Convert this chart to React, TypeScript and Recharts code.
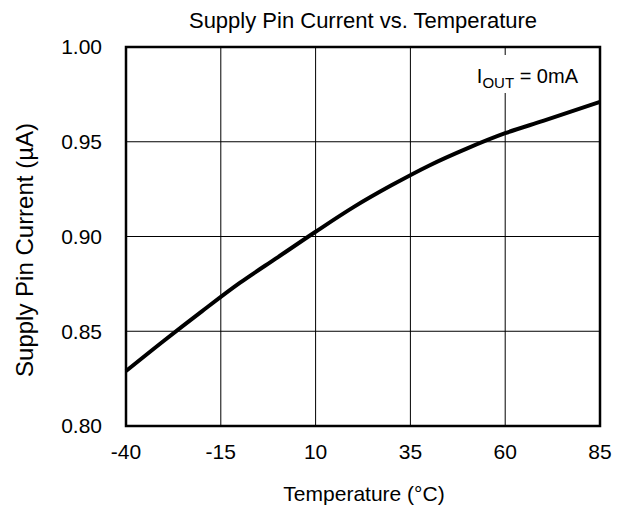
import React from 'react';
import { LineChart, Line, XAxis, YAxis, CartesianGrid, ReferenceArea, Customized } from 'recharts';

const temperatures = [-40, -30, -20, -10, 0, 10, 20, 30, 40, 50, 60, 70, 85];
const supplyCurrent = [0.829, 0.845, 0.8605, 0.8755, 0.889, 0.9025, 0.9155, 0.927, 0.9375, 0.9465, 0.9545, 0.961, 0.971];
const xTicks = [-40, -15, 10, 35, 60, 85];
const yTicks = [0.8, 0.85, 0.9, 0.95, 1.0];

const data = temperatures.map((t, i) => ({ t, v: supplyCurrent[i] }));
const FONT = "Arial, 'Liberation Sans', sans-serif";

const Texts = () => (
  <g fontFamily={FONT} fill="#000">
    <text x={363} y={28} textAnchor="middle" fontSize={22}>Supply Pin Current vs. Temperature</text>
    <text x={364} y={501} textAnchor="middle" fontSize={21}>Temperature (°C)</text>
    <text x={33} y={250} textAnchor="middle" fontSize={24} transform="rotate(-90 33 250)">Supply Pin Current (µA)</text>
    <rect x={468} y={55} width={114} height={38} fill="#fff" />
    <text x={578} y={83} textAnchor="end" fontSize={20}>
      <tspan>I</tspan>
      <tspan fontSize={15} dy={5}>OUT</tspan>
      <tspan dy={-5}> = 0mA</tspan>
    </text>
  </g>
);

export default function App() {
  return (
    <div style={{ position: 'absolute', left: 0, top: 0, background: '#fff' }}>
      <LineChart width={622} height={510} data={data} margin={{ top: 47, right: 22, bottom: 0, left: 0 }}>
        <CartesianGrid stroke="#000" strokeWidth={1} horizontalValues={yTicks} verticalValues={xTicks} />
        <XAxis
          dataKey="t"
          type="number"
          domain={[-40, 85]}
          ticks={xTicks}
          height={84}
          axisLine={false}
          tickLine={false}
          tickSize={0}
          tickMargin={18}
          tick={{ fontSize: 21, fontFamily: FONT, fill: '#000' }}
        />
        <YAxis
          type="number"
          domain={[0.8, 1.0]}
          ticks={yTicks}
          width={126}
          axisLine={false}
          tickLine={false}
          tickSize={0}
          tickMargin={24}
          tickFormatter={(v: number) => v.toFixed(2)}
          tick={{ fontSize: 21, fontFamily: FONT, fill: '#000' }}
        />
        <ReferenceArea x1={-40} x2={85} y1={0.8} y2={1.0} fill="none" stroke="#000" strokeWidth={2.5} ifOverflow="visible" />
        <Customized component={Texts} />
        <Line
          type="monotone"
          dataKey="v"
          stroke="#000"
          strokeWidth={4}
          dot={false}
          isAnimationActive={false}
        />
      </LineChart>
    </div>
  );
}
